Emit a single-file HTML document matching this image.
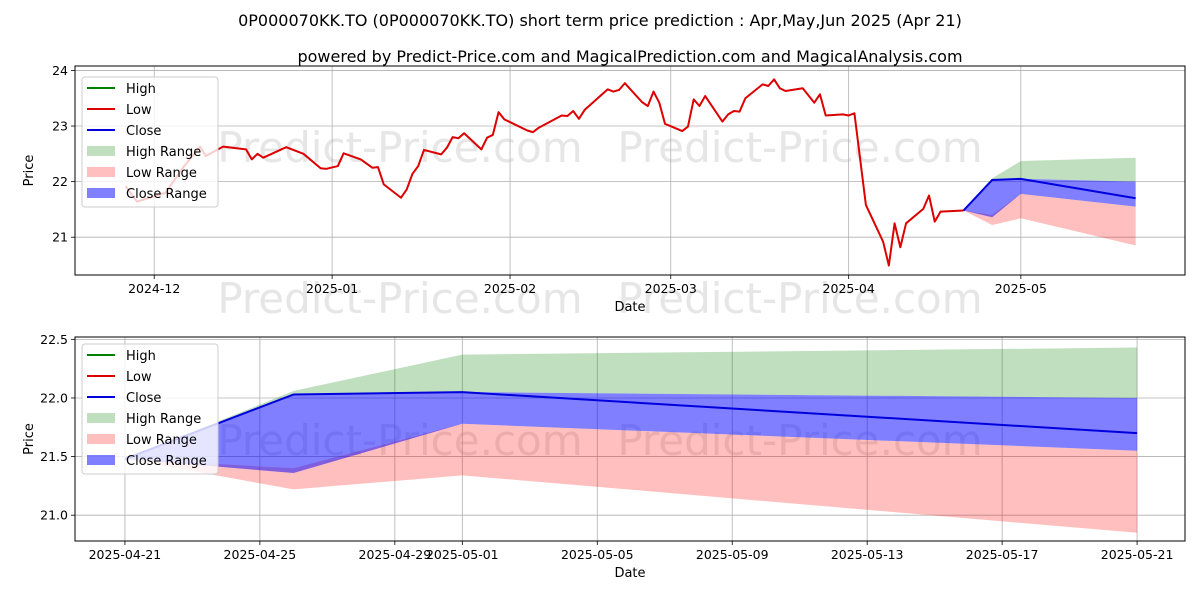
<!DOCTYPE html>
<html><head><meta charset="utf-8"><style>
body{margin:0;background:#fff;}
svg{display:block;font-family:"DejaVu Sans","Liberation Sans",sans-serif;}
</style></head><body>
<svg id="chart" width="1200" height="600" viewBox="0 0 1200 600">
<text x="600" y="26" text-anchor="middle" font-size="16">0P000070KK.TO (0P000070KK.TO) short term price prediction : Apr,May,Jun 2025 (Apr 21)</text>
<text x="630" y="62" text-anchor="middle" font-size="16">powered by Predict-Price.com and MagicalPrediction.com and MagicalAnalysis.com</text>
</svg>
<script>
// Historical low (days since 2024-12-01)
const lowDays=[-5,-3,2,5,8,9,12,16,17,18,19,23,26,29,30,32,33,36,38,39,40,43,44,45,46,47,50,51,52,53,54,57,58,59,60,61,65,66,67,71,72,73,74,75,79,80,81,82,85,86,87,88,89,92,93,94,95,96,99,100,101,102,103,106,107,108,109,110,113,115,116,117,120,121,122,124,127,128,129,130,131,134,135,136,137,141];
const lowVals=[21.92,21.64,21.80,22.25,22.63,22.46,22.63,22.58,22.40,22.50,22.43,22.62,22.50,22.24,22.23,22.28,22.51,22.40,22.25,22.26,21.95,21.71,21.86,22.14,22.28,22.57,22.49,22.61,22.80,22.78,22.87,22.58,22.79,22.84,23.25,23.12,22.92,22.89,22.97,23.19,23.18,23.27,23.13,23.29,23.66,23.62,23.65,23.77,23.43,23.36,23.62,23.42,23.04,22.91,22.99,23.48,23.36,23.54,23.08,23.21,23.27,23.26,23.50,23.75,23.72,23.84,23.68,23.63,23.68,23.42,23.57,23.19,23.21,23.19,23.23,21.58,20.92,20.49,21.25,20.82,21.25,21.51,21.75,21.28,21.46,21.48];
// Forecast (days since 2025-04-21)
const fcDays=[0,5,10,30];
const closeVals=[21.48,22.03,22.05,21.70];
const highRangeTop=[21.48,22.06,22.37,22.43];
const highRangeBot=[21.48,22.03,22.05,22.00];
const lowRangeTop=[21.48,21.40,21.78,21.55];
const lowRangeBot=[21.48,21.22,21.34,20.85];
const closeRangeTop=[21.48,22.03,22.05,22.00];
const closeRangeBot=[21.48,21.36,21.78,21.55];
const topXTicks=[[0,'2024-12'],[31,'2025-01'],[62,'2025-02'],[90,'2025-03'],[121,'2025-04'],[151,'2025-05']];
const topYTicks=[21,22,23,24];
const botXTicks=[[0,'2025-04-21'],[4,'2025-04-25'],[8,'2025-04-29'],[10,'2025-05-01'],[14,'2025-05-05'],[18,'2025-05-09'],[22,'2025-05-13'],[26,'2025-05-17'],[30,'2025-05-21']];
const botYTicks=[21.0,21.5,22.0,22.5];
const FC_OFFSET=141;

const svg=document.getElementById('chart');
const NS='http://www.w3.org/2000/svg';
function mk(tag,attrs,parent){const e=document.createElementNS(NS,tag);for(const k in attrs)e.setAttribute(k,attrs[k]);(parent||svg).appendChild(e);return e;}

function panel(cfg){
  const {L,R,T,B,x0,x1,y0,y1,name}=cfg;
  const sx=d=>L+(d-x0)/(x1-x0)*(R-L);
  const sy=v=>B-(v-y0)/(y1-y0)*(B-T);
  const g=mk('g',{});
  
  
  // watermarks
  cfg.wm.forEach(w=>{const t=mk('text',{x:w[0],y:w[1],'font-size':42,fill:'#e6e6e6','text-anchor':'middle'},g);t.textContent='Predict-Price.com';
    });
  // grid + ticks
  cfg.xt.forEach(t=>{const x=sx(t[0]);
    const l=mk('line',{x1:x,x2:x,y1:T,y2:B,stroke:'#b0b0b0','stroke-width':0.8},g);
    
    mk('line',{x1:x,x2:x,y1:B,y2:B+4,stroke:'#000','stroke-width':0.8},g);
    const tx=mk('text',{x:x,y:B+18,'font-size':12.5,'text-anchor':'middle'},g);tx.textContent=t[1];
    });
  cfg.yt.forEach(v=>{const y=sy(v);
    const l=mk('line',{x1:L,x2:R,y1:y,y2:y,stroke:'#b0b0b0','stroke-width':0.8},g);
    
    mk('line',{x1:L-4,x2:L,y1:y,y2:y,stroke:'#000','stroke-width':0.8},g);
    const tx=mk('text',{x:L-7,y:y+4.5,'font-size':12.5,'text-anchor':'end'},g);tx.textContent=cfg.yfmt(v);
    });
  const area=(top,bot,fill,nm)=>{let p='';fcDays.forEach((d,i)=>{p+=(i?'L':'M')+sx(d+cfg.off)+','+sy(top[i]);});
    for(let i=fcDays.length-1;i>=0;i--)p+='L'+sx(fcDays[i]+cfg.off)+','+sy(bot[i]);
    const e=mk('path',{d:p+'Z',fill:fill,stroke:'none'},g);};
  area(highRangeTop,highRangeBot,'rgba(0,128,0,0.25)','high-range-area');
  area(lowRangeTop,lowRangeBot,'rgba(255,0,0,0.25)','low-range-area');
  area(closeRangeTop,closeRangeBot,'rgba(0,0,255,0.5)','close-range-area');
  if(cfg.hist){let p='';lowDays.forEach((d,i)=>{p+=(i?'L':'M')+sx(d)+','+sy(lowVals[i]);});
    const e=mk('path',{d:p,fill:'none',stroke:'#d00','stroke-width':2,'stroke-linejoin':'round'},g);
    }
  let p='';fcDays.forEach((d,i)=>{p+=(i?'L':'M')+sx(d+cfg.off)+','+sy(closeVals[i]);});
  const c=mk('path',{d:p,fill:'none',stroke:'#0000dd','stroke-width':2},g);
  
  const fr=mk('rect',{x:L,y:T,width:R-L,height:B-T,fill:'none',stroke:'#000','stroke-width':1},g);
  
  const xl=mk('text',{x:(L+R)/2,y:B+36,'font-size':13,'text-anchor':'middle'},g);xl.textContent='Date';
  
  const yl=mk('text',{x:0,y:0,'font-size':13,'text-anchor':'middle',transform:`translate(${L-42},${(T+B)/2}) rotate(-90)`},g);yl.textContent='Price';
  
  // legend
  const lg=mk('g',{},g);
  mk('rect',{x:82,y:cfg.lgY,width:136,height:130,rx:3,fill:'rgba(255,255,255,0.8)',stroke:'#ccc'},lg);
  const items=[['High','line','green'],['Low','line','#d00'],['Close','line','#0000dd'],['High Range','box','rgba(0,128,0,0.25)'],['Low Range','box','rgba(255,0,0,0.25)'],['Close Range','box','rgba(0,0,255,0.5)']];
  items.forEach((it,i)=>{const y=cfg.lgY+11+i*21;
    const ent=mk('g',{},lg);
    if(it[1]=='line')mk('line',{x1:87,x2:115,y1:y,y2:y,stroke:it[2],'stroke-width':2},ent);
    else mk('rect',{x:87,y:y-5,width:28,height:10,fill:it[2]},ent);
    const t=mk('text',{x:126,y:y+5,'font-size':13},ent);t.textContent=it[0];});
}
panel({name:'top-panel',L:75,R:1185,T:66,B:275,x0:-13.8,x1:179.6,y0:20.32,y1:24.08,off:FC_OFFSET,hist:true,
  xt:topXTicks,yt:topYTicks,yfmt:v=>String(v),lgY:77,wm:[[400,162],[800,162],[400,313],[800,313]]});
panel({name:'bottom-panel',L:75,R:1185,T:337,B:541,x0:-1.48,x1:31.42,y0:20.78,y1:22.52,off:0,hist:false,
  xt:botXTicks,yt:botYTicks,yfmt:v=>v.toFixed(1),lgY:344,wm:[[400,455],[800,455]]});
</script>
</body></html>
